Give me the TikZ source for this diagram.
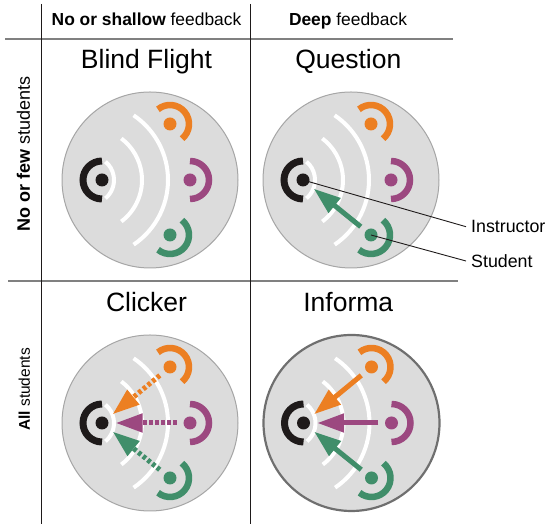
\documentclass[tikz,border=0pt]{standalone}
\usepackage{fontspec}
\setmainfont{Liberation Sans}
\usetikzlibrary{arrows.meta}

\definecolor{cOrange}{HTML}{EC7F22}
\definecolor{cPurple}{HTML}{9C4880}
\definecolor{cGreen}{HTML}{408E6A}
\definecolor{cInk}{HTML}{1E1A1A}
\definecolor{cDisc}{HTML}{DCDCDC}
\definecolor{cRim}{HTML}{A6A6A6}
\definecolor{cRimDark}{HTML}{6F6F6F}
\definecolor{cRule}{HTML}{808080}

\newcommand\fsz[1]{\fontsize{#1}{#1}\selectfont}

% one round panel: #1 node prefix, #2 centre, #3 extra rim options
\newcommand\roundpanel[3]{%
  \begin{scope}[shift={#2}]
    \draw[disc,#3] (0,0) circle (88);
    % waves spreading from the instructor
    \draw[wave] ([shift={(-60,0)}]-50:24) arc[start angle=-50,end angle=50,radius=24];
    \draw[wave] ([shift={(-60,0)}]-53:52) arc[start angle=-53,end angle=53,radius=52];
    \draw[wave] ([shift={(-60,0)}]-56:78) arc[start angle=-56,end angle=56,radius=78];
    % instructor
    \draw[ring,cInk,line width=7pt] ([shift={(-48,0)}]90:19) arc[start angle=90,end angle=270,radius=19];
    \node[dot,fill=cInk] (#1-i) at (-48,0) {};
    % students
    \draw[ring,cOrange] ([shift={(20,56)}]-50.5:19) arc[start angle=-50.5,end angle=129.5,radius=19];
    \node[dot,fill=cOrange] (#1-o) at (20,56) {};
    \draw[ring,cPurple] ([shift={(40,0)}]-90:19) arc[start angle=-90,end angle=90,radius=19];
    \node[dot,fill=cPurple] (#1-p) at (40,0) {};
    \draw[ring,cGreen] ([shift={(20,-55)}]-129:19) arc[start angle=-129,end angle=51,radius=19];
    \node[dot,fill=cGreen] (#1-g) at (20,-55) {};
  \end{scope}}

\begin{document}
\begin{tikzpicture}[x=1pt,y=1pt,
  disc/.style={fill=cDisc,draw=cRim,line width=1pt},
  wave/.style={draw=white,line width=4pt},
  ring/.style={line width=6.5pt},
  dot/.style={circle,inner sep=0pt,minimum size=13pt},
  feedback/.style={line width=5pt,-{Triangle[length=27pt,width=18pt]},shorten <=6.5pt,shorten >=7pt},
  dotted feedback/.style={feedback,dash pattern=on 3.5pt off 2.5pt},
  vrule/.style={draw=cInk,line width=1pt},
  hrule/.style={draw=cRule,line width=1.5pt},
  title/.style={anchor=base,font=\fsz{26.5}},
  colhead/.style={anchor=base,font=\fsz{17.4}},
  rowhead/.style={anchor=base,rotate=90},
  callout/.style={anchor=west,inner xsep=5pt,inner ysep=0pt,font=\fsz{17.8}},
  leader/.style={draw=cInk,line width=0.9pt}]

\useasboundingbox (0,0) rectangle (547,524);

% table rules
\coordinate (vA-top) at (41,520);  \coordinate (vA-bot) at (41,0);
\coordinate (vB-top) at (250,520); \coordinate (vB-bot) at (250,0);
\coordinate (hA-l) at (5,485);     \coordinate (hA-r) at (453,485);
\coordinate (hB-l) at (8,243);     \coordinate (hB-r) at (458,243);
\draw[hrule] (hA-l) -- (hA-r);
\draw[hrule] (hB-l) -- (hB-r);
\draw[vrule] (vA-top) -- (vA-bot);
\draw[vrule] (vB-top) -- (vB-bot);

% column and row headings
\node[colhead] (colA) at (146.5,498.3) {\textbf{No or shallow} feedback};
\node[colhead] (colB) at (348,498.3) {\textbf{Deep} feedback};
\node[rowhead,font=\fsz{18}] (rowA) at (30,370) {\textbf{No or few} students};
\node[rowhead,font=\fsz{15.5}] (rowB) at (30,134.5) {\textbf{All} students};

% panel titles
\node[title] (tBlind) at (146.5,455.7) {Blind Flight};
\node[title] (tQuest) at (348.3,455.7) {Question};
\node[title] (tClick) at (146.5,212.5) {Clicker};
\node[title] (tInfo)  at (348.3,212.5) {Informa};

% panels
\roundpanel{bf}{(150,344)}{}
\roundpanel{qu}{(351,344)}{}
\roundpanel{cl}{(150,101)}{}
\roundpanel{in}{(351.5,101)}{draw=cRimDark,line width=2.2pt}

% feedback arrows
\draw[feedback,cGreen] (qu-g) -- (qu-i);

\draw[dotted feedback,cOrange] (cl-o) -- (cl-i);
\draw[dotted feedback,cPurple] (cl-p) -- (cl-i);
\draw[dotted feedback,cGreen]  (cl-g) -- (cl-i);

\draw[feedback,cOrange] (in-o) -- (in-i);
\draw[feedback,cPurple] (in-p) -- (in-i);
\draw[feedback,cGreen]  (in-g) -- (in-i);

% callouts
\node[callout] (lblI) at (466,297.3) {Instructor};
\node[callout] (lblS) at (466,263) {Student};
\draw[leader] (qu-i.center) -- (lblI.west);
\draw[leader] (qu-g.center) -- (lblS.west);

\end{tikzpicture}
\end{document}
